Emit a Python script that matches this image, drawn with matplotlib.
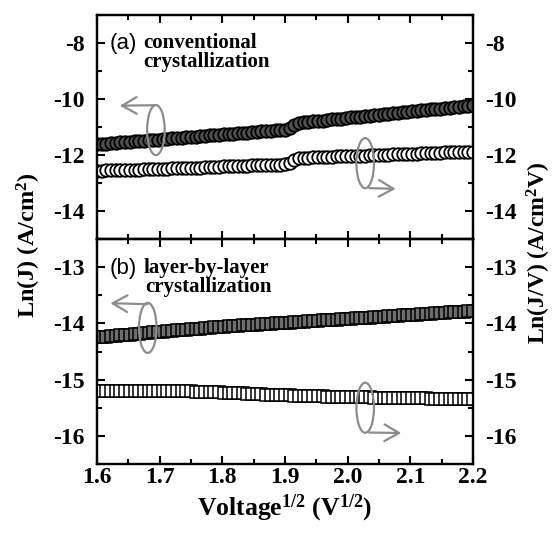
import matplotlib.pyplot as plt
from matplotlib.patches import Ellipse
from matplotlib.ticker import MultipleLocator

# Voltage^(1/2) sample points (V^1/2)
volt = [1.6000, 1.6075, 1.6150, 1.6225, 1.6300, 1.6375, 1.6450, 1.6525, 1.6600, 1.6675,
        1.6750, 1.6825, 1.6900, 1.6975, 1.7050, 1.7125, 1.7200, 1.7275, 1.7350, 1.7425,
        1.7500, 1.7575, 1.7650, 1.7725, 1.7800, 1.7875, 1.7950, 1.8025, 1.8100, 1.8175,
        1.8250, 1.8325, 1.8400, 1.8475, 1.8550, 1.8625, 1.8700, 1.8775, 1.8850, 1.8925,
        1.9000, 1.9075, 1.9150, 1.9225, 1.9300, 1.9375, 1.9450, 1.9525, 1.9600, 1.9675,
        1.9750, 1.9825, 1.9900, 1.9975, 2.0050, 2.0125, 2.0200, 2.0275, 2.0350, 2.0425,
        2.0500, 2.0575, 2.0650, 2.0725, 2.0800, 2.0875, 2.0950, 2.1025, 2.1100, 2.1175,
        2.1250, 2.1325, 2.1400, 2.1475, 2.1550, 2.1625, 2.1700, 2.1775, 2.1850, 2.1925,
        2.2000]

# (a) conventional crystallization
lnj_conv = [-11.62, -11.61, -11.59, -11.58, -11.57, -11.55, -11.54, -11.53, -11.51, -11.50,
            -11.49, -11.47, -11.46, -11.45, -11.43, -11.42, -11.41, -11.39, -11.38, -11.37,
            -11.36, -11.34, -11.33, -11.32, -11.30, -11.29, -11.28, -11.26, -11.25, -11.24,
            -11.22, -11.21, -11.20, -11.18, -11.17, -11.16, -11.14, -11.13, -11.12, -11.10,
            -11.09, -11.03, -10.93, -10.85, -10.83, -10.82, -10.80, -10.78, -10.77, -10.75,
            -10.73, -10.71, -10.70, -10.68, -10.66, -10.65, -10.63, -10.61, -10.60, -10.58,
            -10.56, -10.54, -10.53, -10.51, -10.49, -10.48, -10.46, -10.44, -10.43, -10.41,
            -10.39, -10.37, -10.36, -10.34, -10.32, -10.31, -10.29, -10.27, -10.26, -10.24,
            -10.22]
lnjv_conv = [-12.56, -12.56, -12.55, -12.55, -12.54, -12.54, -12.53, -12.53, -12.52, -12.52,
             -12.51, -12.51, -12.50, -12.50, -12.49, -12.49, -12.48, -12.48, -12.47, -12.47,
             -12.46, -12.45, -12.45, -12.44, -12.43, -12.43, -12.42, -12.41, -12.41, -12.40,
             -12.39, -12.39, -12.38, -12.37, -12.37, -12.36, -12.35, -12.35, -12.34, -12.34,
             -12.33, -12.27, -12.17, -12.10, -12.09, -12.09, -12.08, -12.08, -12.07, -12.06,
             -12.06, -12.05, -12.05, -12.04, -12.03, -12.03, -12.02, -12.02, -12.01, -12.00,
             -12.00, -11.99, -11.99, -11.98, -11.97, -11.97, -11.96, -11.96, -11.95, -11.94,
             -11.94, -11.93, -11.93, -11.92, -11.91, -11.91, -11.90, -11.90, -11.89, -11.88,
             -11.88]

# (b) layer-by-layer crystallization
lnj_lbl = [-14.250, -14.243, -14.235, -14.228, -14.220, -14.213, -14.205, -14.198, -14.190, -14.183,
           -14.175, -14.168, -14.160, -14.153, -14.146, -14.139, -14.132, -14.125, -14.119, -14.112,
           -14.105, -14.098, -14.092, -14.085, -14.078, -14.071, -14.065, -14.058, -14.053, -14.048,
           -14.043, -14.037, -14.032, -14.027, -14.022, -14.016, -14.011, -14.006, -14.001, -13.995,
           -13.990, -13.985, -13.980, -13.974, -13.969, -13.964, -13.959, -13.953, -13.948, -13.943,
           -13.938, -13.932, -13.927, -13.922, -13.917, -13.911, -13.906, -13.901, -13.896, -13.890,
           -13.885, -13.880, -13.875, -13.869, -13.864, -13.859, -13.854, -13.848, -13.843, -13.838,
           -13.833, -13.827, -13.822, -13.817, -13.812, -13.806, -13.801, -13.796, -13.791, -13.785,
           -13.780]
lnjv_lbl = [-15.200, -15.200, -15.201, -15.201, -15.202, -15.202, -15.203, -15.203, -15.204, -15.204,
            -15.205, -15.205, -15.206, -15.206, -15.207, -15.207, -15.208, -15.208, -15.209, -15.209,
            -15.210, -15.213, -15.216, -15.219, -15.222, -15.225, -15.228, -15.231, -15.235, -15.239,
            -15.243, -15.246, -15.250, -15.254, -15.258, -15.261, -15.265, -15.269, -15.273, -15.276,
            -15.280, -15.282, -15.285, -15.287, -15.289, -15.291, -15.294, -15.296, -15.298, -15.300,
            -15.303, -15.305, -15.307, -15.309, -15.311, -15.313, -15.314, -15.316, -15.317, -15.319,
            -15.320, -15.322, -15.323, -15.325, -15.326, -15.328, -15.329, -15.331, -15.332, -15.334,
            -15.335, -15.337, -15.338, -15.340, -15.341, -15.343, -15.344, -15.346, -15.347, -15.349,
            -15.350]

plt.rcParams.update({
    'font.family': 'Liberation Serif',
    'font.weight': 'bold',
    'font.size': 15,
    'axes.unicode_minus': False,
    'mathtext.fontset': 'custom',
    'mathtext.rm': 'Liberation Serif:bold',
    'mathtext.it': 'Liberation Serif:bold',
    'mathtext.bf': 'Liberation Serif:bold',
    'axes.linewidth': 1.6,
})

GRAY = '#8c8c8c'

fig = plt.figure(figsize=(5.52, 5.34), dpi=100)
ax_a = fig.add_axes([0.1757, 0.5524, 0.6812, 0.4195])
ax_b = fig.add_axes([0.1757, 0.1311, 0.6812, 0.4213])
ax_a2 = ax_a.twinx()
ax_b2 = ax_b.twinx()


def style(ax, ylim, major, minor, bottom_labels):
    ax.set_xlim(1.6, 2.2)
    ax.set_ylim(*ylim)
    ax.xaxis.set_major_locator(MultipleLocator(0.1))
    ax.xaxis.set_minor_locator(MultipleLocator(0.05))
    ax.yaxis.set_major_locator(MultipleLocator(major))
    ax.yaxis.set_minor_locator(MultipleLocator(minor))
    ax.tick_params(which='both', direction='in', width=1.5, top=True, bottom=True,
                   labelsize=17)
    ax.tick_params(which='major', length=6, pad=9)
    ax.tick_params(which='minor', length=3.5)
    ax.tick_params(axis='x', labelbottom=bottom_labels, pad=2)


style(ax_a, (-15, -7), 2, 1, False)
style(ax_a2, (-15, -7), 2, 1, False)
style(ax_b, (-16.5, -12.5), 1, 0.5, True)
style(ax_b2, (-16.5, -12.5), 1, 0.5, True)
for ax in (ax_a2, ax_b2):
    ax.xaxis.set_visible(False)

# data
ax_a.plot(volt, lnj_conv, 'o', ls='none', ms=9, mfc='#505050', mec='black', mew=1.3)
ax_a2.plot(volt, lnjv_conv, 'o', ls='none', ms=9, mfc='white', mec='black', mew=1.3)
ax_b.plot(volt, lnj_lbl, 's', ls='none', ms=8.5, mfc='#6e6e6e', mec='black', mew=1.1)
ax_b2.plot(volt, lnjv_lbl, 's', ls='none', ms=8.5, mfc='white', mec='black', mew=1.1)

# gray ellipses with arrows pointing to the axis used
arrow = dict(arrowstyle='->,head_length=0.7,head_width=0.4', color=GRAY, lw=1.6)
ax_a2.add_patch(Ellipse((1.694, -11.11), 0.028, 1.79, fill=False, ec=GRAY, lw=1.6, zorder=5))
ax_a2.annotate('', xy=(1.632, -10.24), xytext=(1.697, -10.22), arrowprops=arrow)
ax_a2.add_patch(Ellipse((2.028, -12.29), 0.028, 1.79, fill=False, ec=GRAY, lw=1.6, zorder=5))
ax_a2.annotate('', xy=(2.081, -13.21), xytext=(2.030, -13.18), arrowprops=arrow)
ax_b2.add_patch(Ellipse((1.681, -14.08), 0.028, 0.89, fill=False, ec=GRAY, lw=1.6, zorder=5))
ax_b2.annotate('', xy=(1.617, -13.64), xytext=(1.685, -13.66), arrowprops=arrow)
ax_b2.add_patch(Ellipse((2.028, -15.50), 0.028, 0.89, fill=False, ec=GRAY, lw=1.6, zorder=5))
ax_b2.annotate('', xy=(2.090, -15.95), xytext=(2.030, -15.94), arrowprops=arrow)

# panel labels
ax_a.text(0.033, 0.875, '(a)', transform=ax_a.transAxes, family='Liberation Sans',
          weight='normal', fontsize=16, va='center')
ax_a.text(0.122, 0.875, 'conventional', transform=ax_a.transAxes, va='center')
ax_a.text(0.122, 0.79, 'crystallization', transform=ax_a.transAxes, va='center')
ax_b.text(0.033, 0.871, '(b)', transform=ax_b.transAxes, family='Liberation Sans',
          weight='normal', fontsize=16, va='center')
ax_b.text(0.124, 0.871, 'layer-by-layer', transform=ax_b.transAxes, va='center')
ax_b.text(0.129, 0.787, 'crystallization', transform=ax_b.transAxes, va='center')

# axis titles
fig.text(0.053, 0.541, 'Ln(J) (A/cm$^{2}$)', rotation=90, ha='center', va='center', fontsize=17.5)
fig.text(0.976, 0.526, 'Ln(J/V) (A/cm$^{2}$V)', rotation=90, ha='center', va='center', fontsize=17)
fig.text(0.516, 0.035, 'Voltage$^{1/2}$ (V$^{1/2}$)', ha='center', va='baseline', fontsize=18.5)

fig.savefig('out.png', dpi=100)
